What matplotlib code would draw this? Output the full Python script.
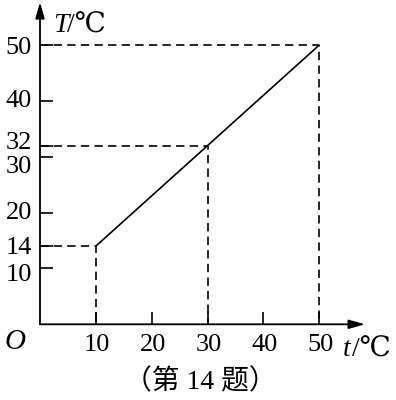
import matplotlib.pyplot as plt
from matplotlib.transforms import offset_copy

plt.rcParams['lines.scale_dashes'] = False
SERIF = ['Liberation Serif', 'DejaVu Serif', 'Noto Sans CJK SC']

# data
line_t = [10, 50]
line_T = [14, 50]
guide_pts = [(10, 14), (30, 32), (50, 50)]
x_ticks = [10, 20, 30, 40, 50]
y_ticks = [10, 14, 20, 30, 32, 40, 50]
caption = "（第 14 题）"

# pixel layout of the original picture
PX = 5.585
x0, y0 = 40, 324.3
xmax, ymax = 58.2, 57.7

fig = plt.figure(figsize=(3.96, 4.0), dpi=100)
ax = fig.add_axes([x0 / 396, (400 - y0) / 400, xmax * PX / 396, ymax * PX / 400])
ax.set_xlim(0, xmax)
ax.set_ylim(0, ymax)
for s in ax.spines.values():
    s.set_visible(False)

# axes with arrows
arrow = dict(arrowstyle='-|>,head_length=0.6,head_width=0.17', mutation_scale=16,
             color='black', lw=1.3, shrinkA=0, shrinkB=0)
ax.annotate('', xy=(xmax, 0), xytext=(0, 0), arrowprops=arrow, annotation_clip=False)
ax.annotate('', xy=(0, ymax), xytext=(0, 0), arrowprops=arrow, annotation_clip=False)

# ticks
ax.set_xticks(x_ticks)
ax.set_yticks(y_ticks)
ax.set_xticklabels([])
ax.set_yticklabels([])
ax.tick_params(direction='in', length=9, width=1.2, color='black')

# main line + dashed guides
ax.plot(line_t, line_T, color='black', lw=1.2, solid_capstyle='butt')
for gx, gy in guide_pts:
    ax.plot([0, gx, gx], [gy, gy, 0], color='black', lw=1.2,
            linestyle=(0, (6, 3.8)))

# tick labels (30 and 32 nudged apart like in the original)
y_shift = {50: 3, 40: 0, 32: -3, 30: 10, 20: 0, 14: 2, 10: 7}
for v in y_ticks:
    tr = offset_copy(ax.transData, fig=fig, x=-8, y=-y_shift[v], units='dots')
    ax.text(0, v, str(v), transform=tr, ha='right', va='center',
            fontsize=19, family=SERIF)
for v in x_ticks:
    tr = offset_copy(ax.transData, fig=fig, x=1.5, y=-21, units='dots')
    ax.text(v, 0, str(v), transform=tr, ha='center', va='center',
            fontsize=19, family=SERIF)

# axis names, origin, caption
fig.text(15 / 396, 1 - 342 / 400, 'O', ha='center', va='center', fontsize=21,
         family=SERIF, style='italic')
fig.text(53 / 396, 1 - 26 / 400, 'T', ha='left', va='center', fontsize=20,
         family=SERIF, style='italic')
fig.text(67 / 396, 1 - 26 / 400, '/℃', ha='left', va='center', fontsize=20,
         family=SERIF)
fig.text(343 / 396, 1 - 350 / 400, 't', ha='left', va='center', fontsize=20,
         family=SERIF, style='italic')
fig.text(352 / 396, 1 - 350 / 400, '/℃', ha='left', va='center', fontsize=20,
         family=SERIF)
fig.text(200 / 396, 1 - 382 / 400, caption, ha='center', va='center',
         fontsize=20, family=SERIF)

fig.savefig('out.png', dpi=100, facecolor='white')
